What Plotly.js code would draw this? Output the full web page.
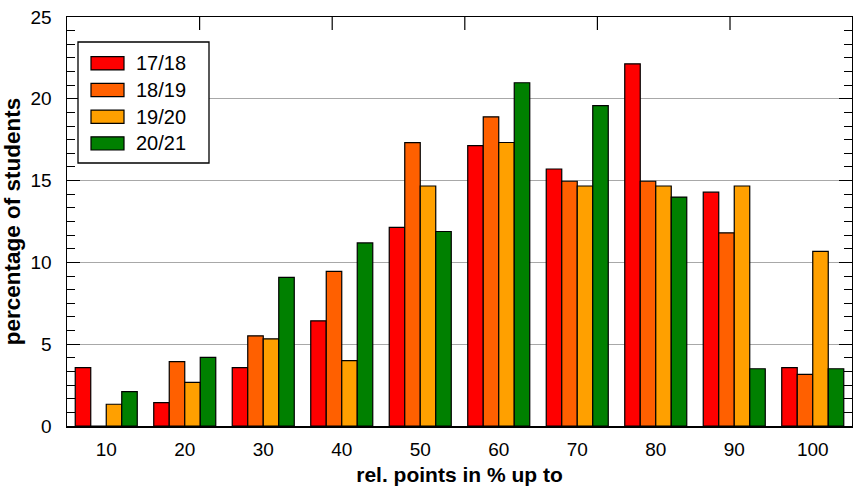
<!DOCTYPE html>
<html><head><meta charset="utf-8">
<script src="https://cdn.plot.ly/plotly-3.0.1.min.js"></script>
<style>html,body{margin:0;padding:0;background:#fff}#c{width:853px;height:490px}</style>
</head><body><div id="c"></div>
<script>
const categories = ["10","20","30","40","50","60","70","80","90","100"];
const s1718 = [3.57, 1.43, 3.57, 6.43, 12.14, 17.14, 15.71, 22.14, 14.29, 3.57];
const s1819 = [0, 3.94, 5.51, 9.45, 17.32, 18.90, 14.96, 14.96, 11.81, 3.15];
const s1920 = [1.33, 2.67, 5.33, 4.00, 14.67, 17.33, 14.67, 14.67, 14.67, 10.67];
const s2021 = [2.10, 4.20, 9.09, 11.19, 11.89, 20.98, 19.58, 13.99, 3.50, 3.50];
const seriesNames = ["17/18","18/19","19/20","20/21"];
const colors = ["#ff0000","#ff6000","#ffa000","#008000"];
const yTicks = [0,5,10,15,20,25];
const topTickCount = 5;

const FAM = '"Liberation Sans", Arial, sans-serif';
const all = [s1718, s1819, s1920, s2021];
const traces = all.map((v,i)=>({
  type:'bar', x:categories, y:v, name:seriesNames[i], showlegend:false,
  marker:{color:colors[i], line:{color:'#000', width:1.2}}
}));

// legend box built from the series names / colours (plot-area fractions)
const PL = 67, PW = 785, PT = 17, PH = 409;
const fx = px => (px - PL) / PW;
const fy = py => (PT + PH - py) / PH;
const shapes = [{type:'rect', xref:'paper', yref:'paper', x0:fx(78), x1:fx(209), y0:fy(163), y1:fy(42),
  line:{color:'#000', width:1.3}, fillcolor:'#fff'}];
const annotations = [];
seriesNames.forEach((n,i)=>{
  const cy = 63.3 + i*26.7;
  shapes.push({type:'rect', xref:'paper', yref:'paper', x0:fx(91), x1:fx(124), y0:fy(cy+6.6), y1:fy(cy-6.6),
    line:{color:'#000', width:1.2}, fillcolor:colors[i]});
  annotations.push({xref:'paper', yref:'paper', x:fx(134), y:fy(cy), xanchor:'left', yanchor:'middle',
    text:n, showarrow:false, font:{family:FAM, size:20, color:'#000'}});
});
// decorative top-frame ticks (independent scale of the original frame)
for (let k = 1; k <= topTickCount; k++) {
  const f = k / 5.92;
  shapes.push({type:'line', xref:'paper', yref:'paper', x0:f, x1:f, y0:1, y1:fy(PT + 13),
    line:{color:'#000', width:1.2}});
}

const tickFont = {family:FAM, size:19, color:'#000'};
const layout = {
  width:853, height:490,
  margin:{l:PL, r:853-PL-PW, t:PT, b:490-PT-PH},
  paper_bgcolor:'#fff', plot_bgcolor:'#fff',
  font:tickFont, showlegend:false,
  barmode:'group', bargap:0.21, bargroupgap:0,
  shapes:shapes, annotations:annotations,
  xaxis:{type:'category', range:[-0.5,9.5], showline:true, linecolor:'#000', linewidth:1.5,
    ticks:'', tickfont:tickFont, mirror:true, zeroline:false, showgrid:false, ticklabelstandoff:6,
    title:{text:'<b>rel. points in % up to</b>', font:{family:FAM, size:21, color:'#000'}, standoff:8}},
  yaxis:{range:[0,25], tickvals:yTicks, ticks:'inside', ticklen:13, tickcolor:'#000', tickwidth:1.2,
    minor:{dtick:5/6, tick0:0, ticks:'inside', ticklen:8, tickcolor:'#000', tickwidth:1, showgrid:false},
    showline:true, mirror:'ticks', linecolor:'#000', linewidth:1.5, showgrid:true, gridcolor:'#a8a8a8', gridwidth:1.2,
    zeroline:false, tickfont:tickFont, ticklabelstandoff:10,
    title:{text:'<b>percentage of students</b>', font:{family:FAM, size:22.5, color:'#000'}, standoff:3}}
};
Plotly.newPlot('c', traces, layout, {staticPlot:true});
</script></body></html>
